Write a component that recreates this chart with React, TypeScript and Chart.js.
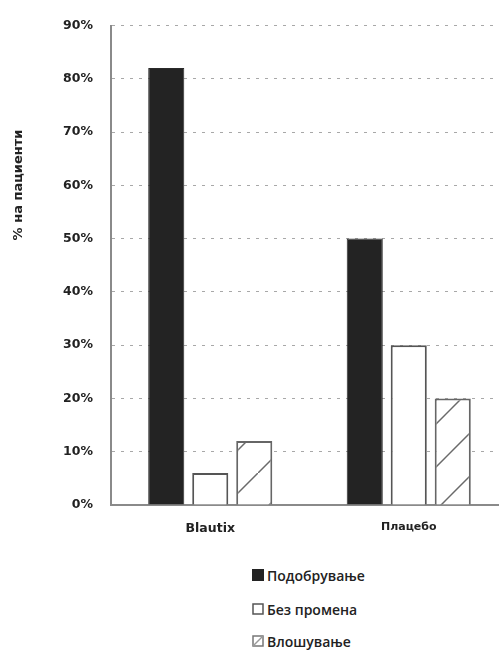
import React, { useEffect, useRef } from "react";
import { Chart, registerables } from "chart.js";

Chart.register(...registerables);

const categories = ["Blautix", "Плацебо"];
const improved = [82, 50];
const unchanged = [6, 30];
const worsened = [12, 20];
const seriesLabels = ["Подобрување", "Без промена", "Влошување"];
const yAxisTitle = "% на пациенти";
const yMax = 90;
const yStep = 10;

function makeHatch(): CanvasPattern | string {
  const size = 43;
  const c = document.createElement("canvas");
  c.width = size;
  c.height = size;
  const g = c.getContext("2d");
  if (!g) return "#fff";
  g.fillStyle = "#ffffff";
  g.fillRect(0, 0, size, size);
  g.strokeStyle = "#6a6a6a";
  g.lineWidth = 1.5;
  g.beginPath();
  g.moveTo(-2, size + 2);
  g.lineTo(size + 2, -2);
  g.stroke();
  const p = g.createPattern ? g.createPattern(c, "repeat") : null;
  return p || "#fff";
}

const yTitlePlugin = {
  id: "yTitlePlugin",
  afterDraw(chart: any) {
    const ctx = chart.ctx;
    ctx.save();
    ctx.translate(19, 185);
    ctx.rotate(-Math.PI / 2);
    ctx.font = "bold 13px 'DejaVu Sans'";
    ctx.fillStyle = "#222";
    ctx.textAlign = "center";
    ctx.textBaseline = "middle";
    ctx.fillText(yAxisTitle, 0, 0);
    ctx.restore();
  },
};

export default function App() {
  const ref = useRef<HTMLCanvasElement>(null);

  useEffect(() => {
    if (!ref.current) return;
    const hatch = makeHatch();
    const chart = new Chart(ref.current, {
      type: "bar",
      data: {
        labels: categories,
        datasets: [
          {
            label: seriesLabels[0],
            data: improved,
            backgroundColor: "#232323",
            borderColor: "#2a2a2a",
            borderWidth: 1,
          },
          {
            label: seriesLabels[1],
            data: unchanged,
            backgroundColor: "#ffffff",
            borderColor: "#555555",
            borderWidth: 2,
          },
          {
            label: seriesLabels[2],
            data: worsened,
            backgroundColor: hatch as any,
            borderColor: "#666666",
            borderWidth: 2,
          },
        ],
      },
      options: {
        responsive: false,
        animation: false,
        devicePixelRatio: 1,
        layout: { padding: { top: 17, right: 2, left: 0, bottom: 0 } },
        datasets: {
          bar: { categoryPercentage: 0.665, barPercentage: 0.82 },
        },
        plugins: {
          legend: { display: false },
          tooltip: { enabled: false },
        },
        scales: {
          x: {
            grid: { display: false, drawTicks: false },
            border: { display: true, color: "#8a8a8a", width: 2 },
            ticks: {
              color: "#222",
              padding: 16,
              font: (ctx: any) => ({
                family: "'DejaVu Sans'",
                size: ctx.index === 0 ? 12.5 : 11,
                weight: "bold",
              }),
            },
            afterFit(scale: any) {
              scale.height = 40;
            },
          },
          y: {
            min: 0,
            max: yMax,
            grid: {
              color: "#a8a8a8",
              lineWidth: 1,
              drawTicks: false,
            },
            border: { display: true, color: "#8a8a8a", width: 2, dash: [3, 6] },
            ticks: {
              stepSize: yStep,
              padding: 18,
              color: "#222",
              font: { family: "'DejaVu Sans'", size: 12.5, weight: "bold" },
              callback: (v: any) => v + "%",
            },
            afterFit(scale: any) {
              scale.width = 111;
            },
          },
        },
      },
      plugins: [yTitlePlugin],
    });
    return () => chart.destroy();
  }, []);

  const legendRows = [
    { label: seriesLabels[0], y: 575, kind: "dark" },
    { label: seriesLabels[1], y: 609, kind: "white" },
    { label: seriesLabels[2], y: 641, kind: "hatch" },
  ];

  return (
    <div
      style={{
        position: "absolute",
        left: 0,
        top: 0,
        width: 499,
        height: 650,
        overflow: "hidden",
        background: "#fff",
      }}
    >
      <canvas ref={ref} width={510} height={545} style={{ display: "block" }} />
      {legendRows.map((r) => (
        <div
          key={r.label}
          style={{
            position: "absolute",
            left: 252,
            top: r.y - 10,
            height: 20,
            display: "flex",
            alignItems: "center",
            fontFamily: "'Open Sans', sans-serif",
            fontWeight: 600,
            fontSize: 14,
            color: "#222",
            whiteSpace: "nowrap",
          }}
        >
          <svg width={12} height={12} style={{ marginRight: 3 }}>
            {r.kind === "dark" && <rect x={0.5} y={0.5} width={11} height={11} fill="#232323" stroke="#232323" />}
            {r.kind === "white" && <rect x={1} y={1} width={10} height={10} fill="#fff" stroke="#555" strokeWidth={1.5} />}
            {r.kind === "hatch" && (
              <g>
                <rect x={1} y={1} width={10} height={10} fill="#fff" stroke="#777" strokeWidth={1.5} />
                <line x1={1} y1={11} x2={11} y2={1} stroke="#999" strokeWidth={1.5} />
              </g>
            )}
          </svg>
          <span>{r.label}</span>
        </div>
      ))}
    </div>
  );
}
